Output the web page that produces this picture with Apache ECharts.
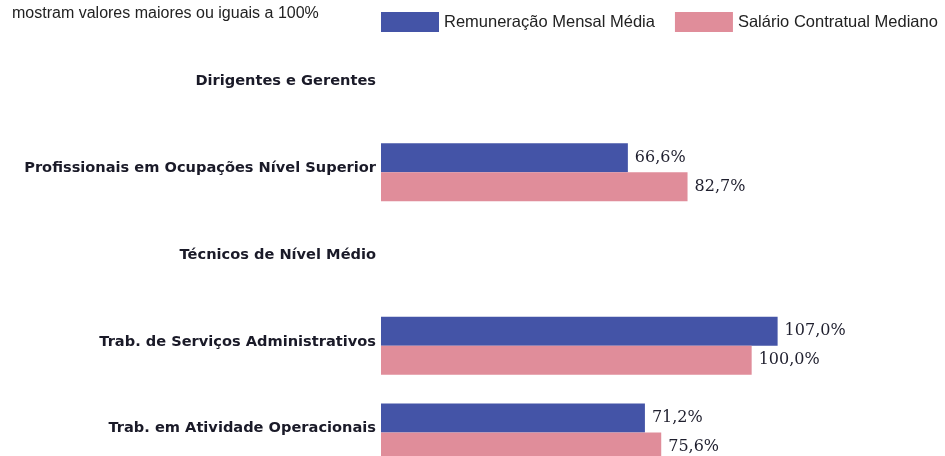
<!DOCTYPE html>
<html>
<head>
<meta charset="utf-8">
<script src="https://cdn.jsdelivr.net/npm/echarts@6/dist/echarts.min.js"></script>
<style>
  html, body { margin: 0; padding: 0; background: #fff; }
  #chart { width: 945px; height: 456px; }
</style>
</head>
<body>
<div id="chart"></div>
<script>
// categories top to bottom
const categories = [
  "Dirigentes e Gerentes",
  "Profissionais em Ocupações Nível Superior",
  "Técnicos de Nível Médio",
  "Trab. de Serviços Administrativos",
  "Trab. em Atividade Operacionais"
];
const remuneracao = [null, 66.6, null, 107.0, 71.2];
const salario = [null, 82.7, null, 100.0, 75.6];

const chart = echarts.init(document.getElementById("chart"));

const labelOpt = {
  show: true,
  position: "right",
  distance: 7,
  color: "#1f1f2e",
  fontFamily: "DejaVu Serif",
  fontSize: 16,
  formatter: p => p.value.toFixed(1).replace(".", ",") + "%"
};

chart.setOption({
  animation: false,
  title: {
    text: "mostram valores maiores ou iguais a 100%",
    left: 7,
    top: 1,
    textStyle: {
      fontFamily: "Liberation Sans",
      fontWeight: "normal",
      fontSize: 16,
      color: "#222"
    }
  },
  legend: {
    left: 376,
    top: 7,
    width: 600,
    itemWidth: 58,
    itemHeight: 20,
    itemGap: 20,
    icon: "rect",
    textStyle: {
      fontFamily: "Liberation Sans",
      fontSize: 16.5,
      color: "#222"
    },
    data: ["Remuneração Mensal Média", "Salário Contratual Mediano"]
  },
  grid: {
    left: 381,
    top: 42,
    width: 556,
    height: 434,
    outerBoundsMode: "none"
  },
  xAxis: {
    type: "value",
    min: 0,
    max: 150,
    show: false
  },
  yAxis: {
    type: "category",
    inverse: true,
    data: categories,
    axisLine: { show: false },
    axisTick: { show: false },
    axisLabel: {
      margin: 5,
      formatter: v => "{a|" + v + "}",
      rich: {
        a: {
          padding: [0, 0, 8, 0],
          fontFamily: "DejaVu Sans",
          fontWeight: "bold",
          fontSize: 14.6,
          color: "#1a1a28"
        }
      }
    }
  },
  series: [
    {
      name: "Remuneração Mensal Média",
      type: "bar",
      data: remuneracao,
      barWidth: 29,
      barGap: "0%",
      itemStyle: { color: "#4454a7" },
      label: labelOpt
    },
    {
      name: "Salário Contratual Mediano",
      type: "bar",
      data: salario,
      barWidth: 29,
      barGap: "0%",
      itemStyle: { color: "#e08d9a" },
      label: labelOpt
    }
  ]
});
</script>
</body>
</html>
